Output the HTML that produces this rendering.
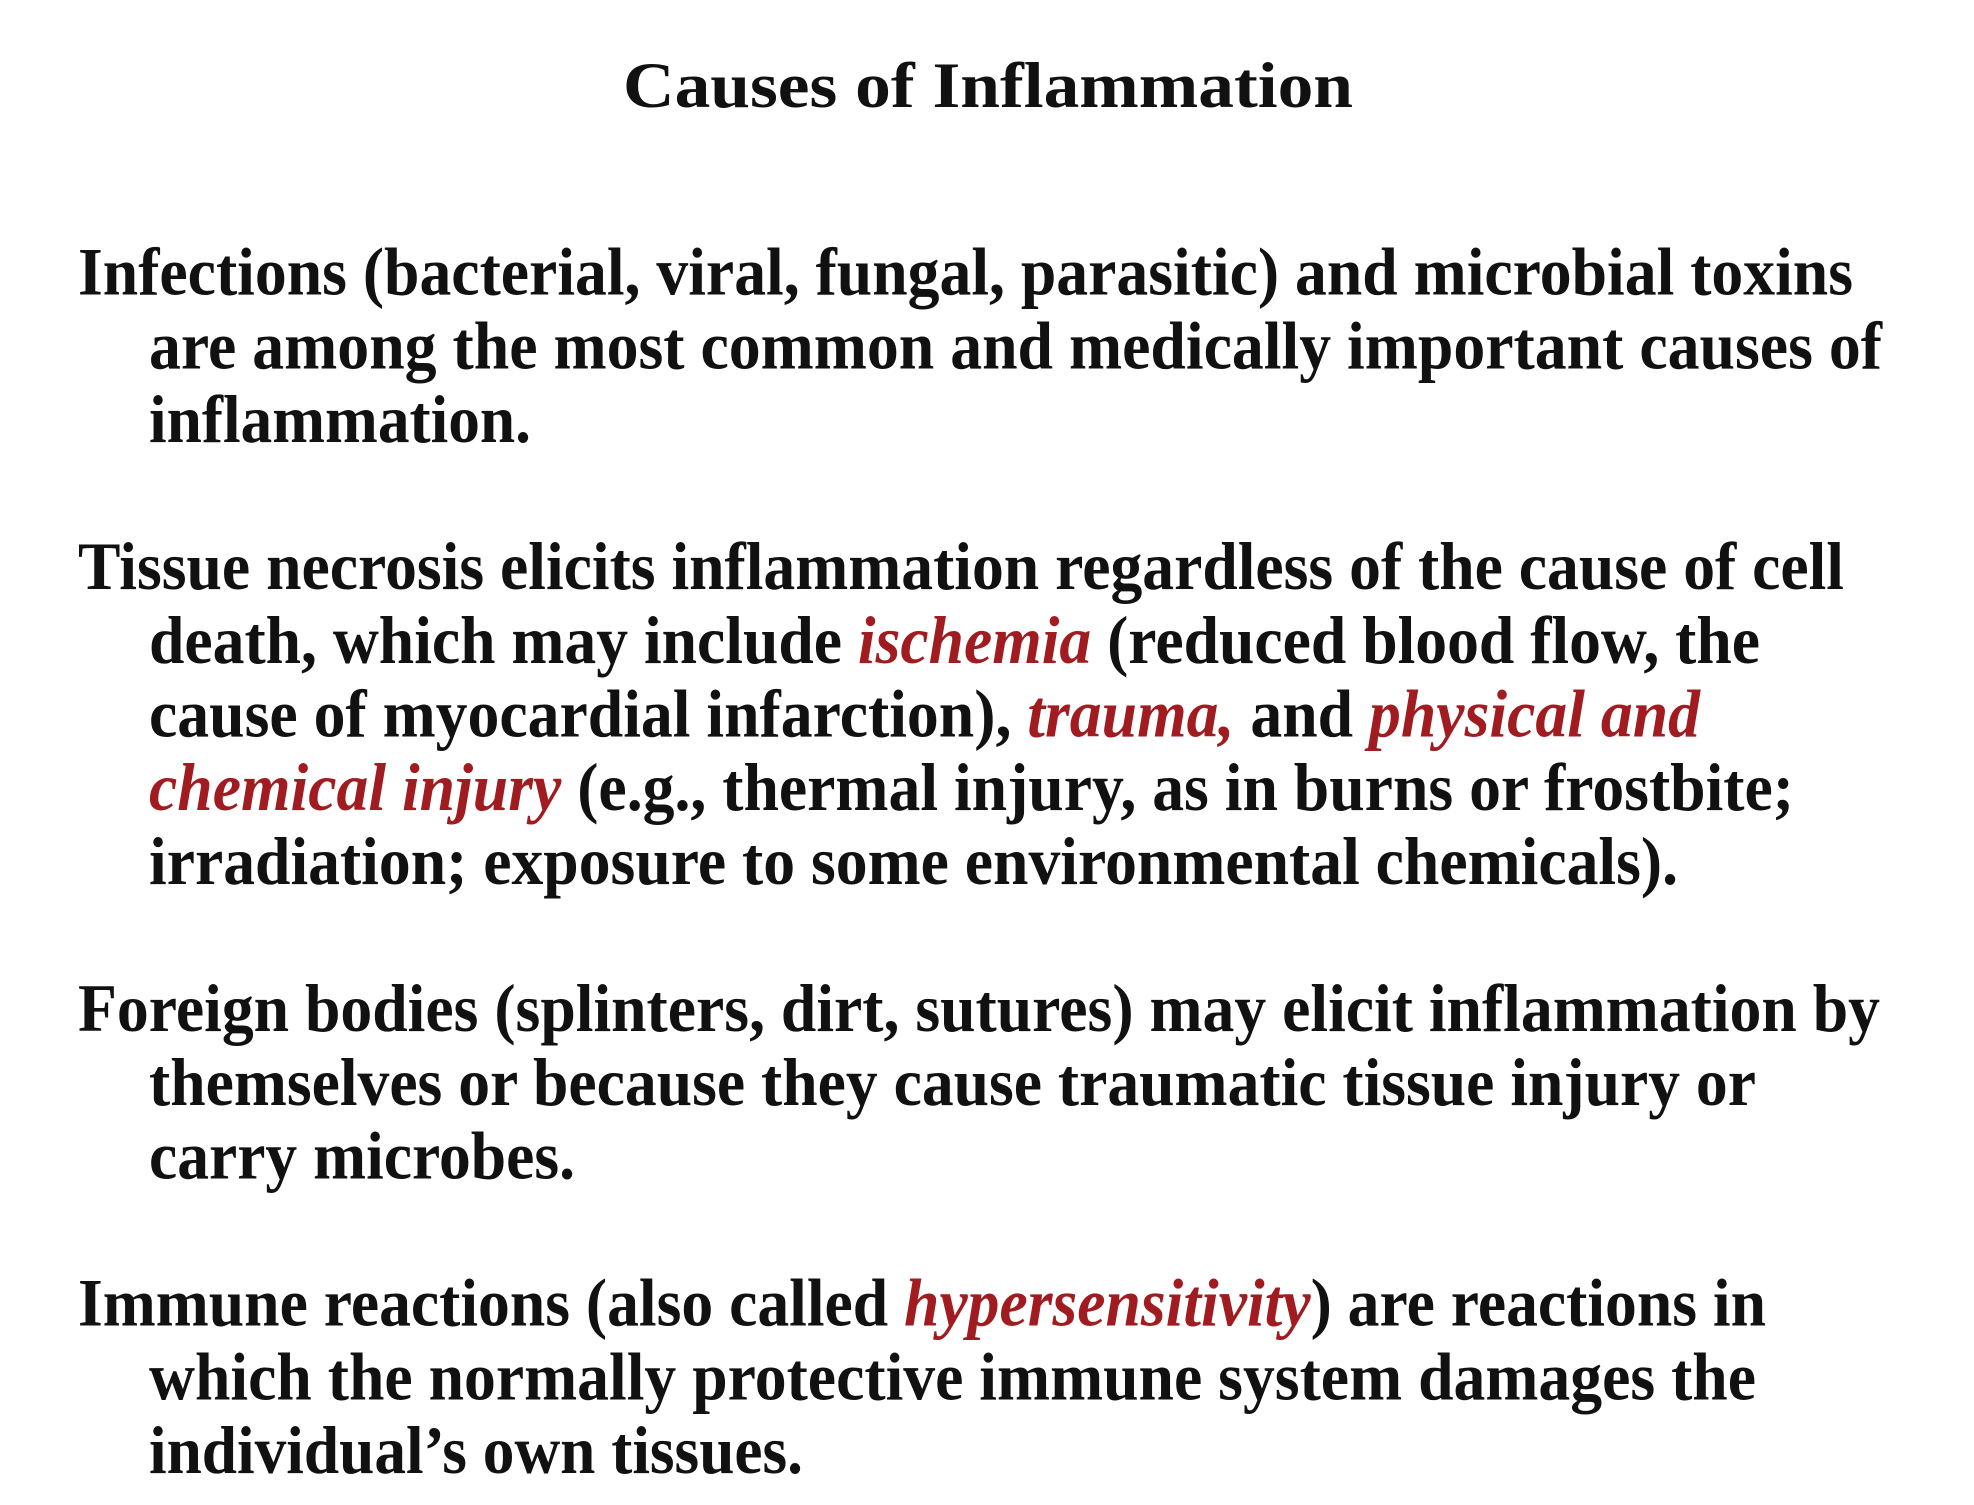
<!DOCTYPE html>
<html><head><meta charset="utf-8"><style>
html,body{margin:0;padding:0;background:#fff;}
svg{display:block;}
text{font-family:"Liberation Serif",serif;font-weight:bold;fill:#111;}
.r{fill:#a01c20;font-style:italic;}
</style></head><body>
<svg width="1974" height="1505" viewBox="0 0 1974 1505" xmlns="http://www.w3.org/2000/svg">
<rect width="1974" height="1505" fill="#fff"/>
<text x="623" y="107" font-size="65" textLength="730" lengthAdjust="spacingAndGlyphs">Causes of Inflammation</text>
<g font-size="68">
<text x="78" y="294.6" textLength="1775" lengthAdjust="spacingAndGlyphs">Infections (bacterial, viral, fungal, parasitic) and microbial toxins</text>
<text x="149" y="368.3" textLength="1733" lengthAdjust="spacingAndGlyphs">are among the most common and medically important causes of</text>
<text x="149" y="441.9" textLength="382" lengthAdjust="spacingAndGlyphs">inflammation.</text>
</g>
<g font-size="68">
<text x="78" y="589.2" textLength="1766" lengthAdjust="spacingAndGlyphs">Tissue necrosis elicits inflammation regardless of the cause of cell</text>
<text x="149" y="662.9" textLength="1611" lengthAdjust="spacingAndGlyphs">death, which may include <tspan class="r">ischemia</tspan> (reduced blood flow, the</text>
<text x="149" y="736.5" textLength="1551" lengthAdjust="spacingAndGlyphs">cause of myocardial infarction), <tspan class="r">trauma,</tspan> and <tspan class="r">physical and</tspan></text>
<text x="149" y="810.2" textLength="1645" lengthAdjust="spacingAndGlyphs"><tspan class="r">chemical injury</tspan> (e.g., thermal injury, as in burns or frostbite;</text>
<text x="149" y="883.8" textLength="1529" lengthAdjust="spacingAndGlyphs">irradiation; exposure to some environmental chemicals).</text>
</g>
<g font-size="68">
<text x="78" y="1031.1" textLength="1802" lengthAdjust="spacingAndGlyphs">Foreign bodies (splinters, dirt, sutures) may elicit inflammation by</text>
<text x="149" y="1104.8" textLength="1607" lengthAdjust="spacingAndGlyphs">themselves or because they cause traumatic tissue injury or</text>
<text x="149" y="1178.4" textLength="426" lengthAdjust="spacingAndGlyphs">carry microbes.</text>
</g>
<g font-size="68">
<text x="78" y="1325.7" textLength="1688" lengthAdjust="spacingAndGlyphs">Immune reactions (also called <tspan class="r">hypersensitivity</tspan>) are reactions in</text>
<text x="149" y="1399.4" textLength="1607" lengthAdjust="spacingAndGlyphs">which the normally protective immune system damages the</text>
<text x="149" y="1473" textLength="654" lengthAdjust="spacingAndGlyphs">individual’s own tissues.</text>
</g>
</svg>
</body></html>
